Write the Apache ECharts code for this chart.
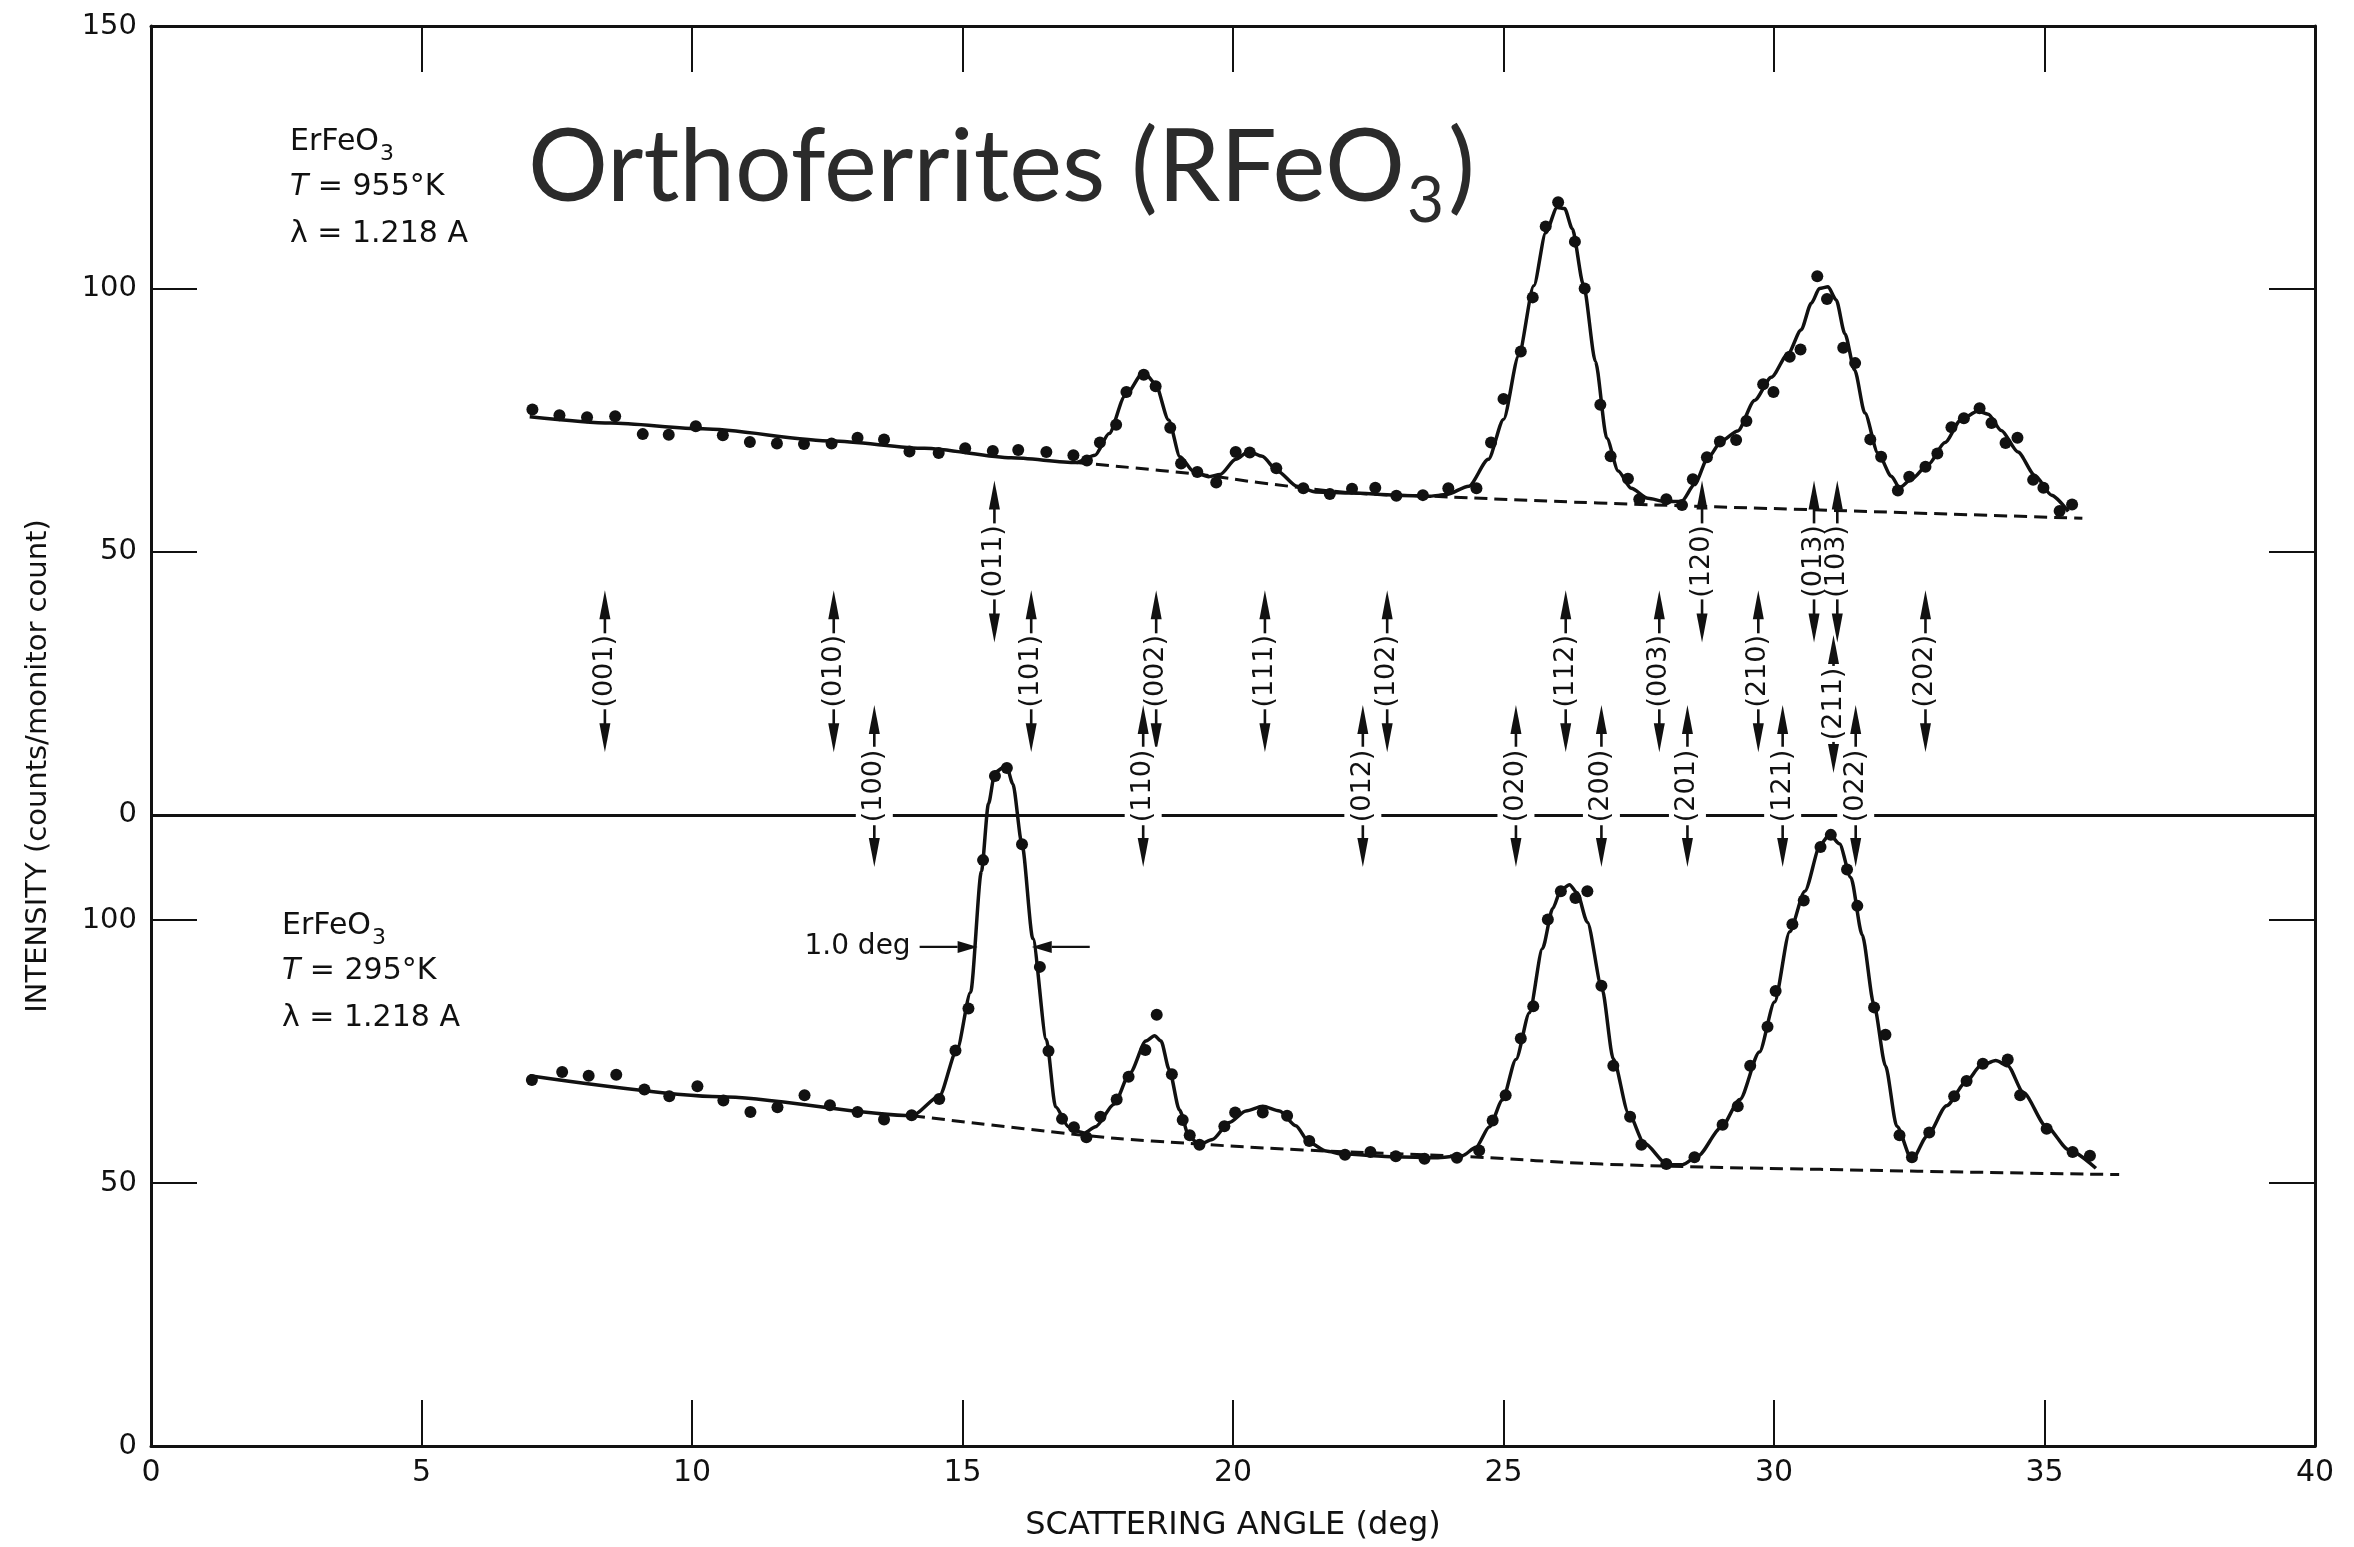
<!DOCTYPE html>
<html>
<head>
<meta charset="utf-8">
<title>ErFeO3 neutron diffraction patterns</title>
<script src="https://cdn.jsdelivr.net/npm/echarts@6/dist/echarts.min.js"></script>
<style>
  html, body { margin: 0; padding: 0; background: #fff; }
  #chart { width: 2354px; height: 1547px; }
</style>
</head>
<body>
<div id="chart"></div>
<script>
// ---------------------------------------------------------------
// Scattering angle (deg) vs intensity (counts / monitor count)
// Upper pattern: T = 955 K, lower pattern: T = 295 K.
// The upper pattern is stacked 120 counts above the lower one.
// ---------------------------------------------------------------

// 955 K: measured points [angle, counts]
const upperDots = [
  [7.05,77.1],[7.55,76.0],[8.06,75.6],[8.58,75.8],[9.09,72.4],[9.57,72.3],[10.07,73.9],[10.57,72.2],
  [11.07,70.9],[11.57,70.6],[12.07,70.5],[12.58,70.6],[13.06,71.7],[13.55,71.4],[14.02,69.1],[14.56,68.8],
  [15.05,69.7],[15.56,69.2],[16.03,69.4],[16.55,69.0],[17.05,68.4],[17.30,67.4],[17.54,70.8],[17.84,74.2],
  [18.03,80.4],[18.35,83.7],[18.57,81.5],[18.84,73.6],[19.04,66.8],[19.34,65.2],[19.69,63.2],[20.05,69.0],
  [20.31,68.9],[20.80,65.9],[21.30,62.1],[21.79,61.0],[22.20,62.0],[22.63,62.2],[23.02,60.7],[23.51,60.8],
  [23.98,62.1],[24.50,62.1],[24.77,70.8],[25.00,79.1],[25.32,88.1],[25.54,98.4],[25.78,111.9],[26.01,116.5],
  [26.32,109.0],[26.50,100.1],[26.79,78.0],[26.98,68.2],[27.30,63.9],[27.51,60.0],[28.01,60.0],[28.30,58.9],
  [28.50,63.8],[28.76,68.0],[29.00,71.0],[29.30,71.3],[29.49,74.9],[29.80,81.9],[29.99,80.4],[30.29,87.1],
  [30.49,88.5],[30.80,102.4],[30.98,98.1],[31.28,88.8],[31.50,85.9],[31.78,71.4],[31.98,68.1],[32.29,61.7],
  [32.50,64.3],[32.80,66.2],[33.02,68.7],[33.28,73.7],[33.51,75.4],[33.80,77.3],[34.02,74.5],[34.28,70.7],
  [34.50,71.7],[34.79,63.7],[34.98,62.2],[35.28,57.8],[35.51,59.0]
];

// 955 K: fitted curve
const upperFit = [
  [7.0,75.7],[8.5,74.5],[10.2,73.4],[12.6,71.1],[14.3,69.7],[15.9,67.9],[17.1,67.0],[17.45,68.4],
  [17.71,72.5],[18.0,79.6],[18.35,84.2],[18.56,82.1],[18.81,75.1],[19.02,68.1],[19.27,65.3],[19.55,64.3],
  [19.76,64.7],[20.05,67.6],[20.29,69.1],[20.54,68.2],[20.82,65.4],[21.18,62.5],[21.53,61.4],[22.2,61.2],
  [23.0,60.8],[23.65,60.6],[23.94,60.9],[24.36,62.5],[24.72,67.6],[25.0,75.2],[25.28,87.3],[25.56,100.6],
  [25.78,110.7],[25.99,115.5],[26.13,115.3],[26.27,111.5],[26.48,100.7],[26.7,86.2],[26.91,71.6],[27.12,65.4],
  [27.36,62.1],[27.67,60.2],[27.98,59.6],[28.29,59.6],[28.53,62.8],[28.78,67.9],[29.03,71.1],[29.33,73.0],
  [29.64,78.8],[29.95,83.2],[30.26,87.7],[30.5,92.2],[30.69,97.3],[30.84,100.1],[31.0,100.4],[31.15,97.9],
  [31.31,91.5],[31.49,84.6],[31.68,76.4],[31.92,68.8],[32.17,64.4],[32.32,62.2],[32.54,63.8],[32.85,66.6],
  [33.16,70.8],[33.46,75.2],[33.77,76.8],[33.96,76.2],[34.2,73.1],[34.51,69.0],[34.82,64.6],[35.13,60.8],
  [35.44,57.7]
];

// 955 K: background under the peaks
const upperBackground = [
  [17.1,67.0],[19.4,64.7],[20.47,63.2],[22.24,61.2],[23.65,60.6],[26.75,59.3],[31.07,57.9],[35.7,56.4]
];

// 295 K: measured points
const lowerDots = [
  [7.04,69.6],[7.60,71.1],[8.09,70.4],[8.60,70.6],[9.12,67.8],[9.58,66.5],[10.10,68.4],[10.58,65.7],
  [11.08,63.5],[11.58,64.4],[12.08,66.7],[12.55,64.8],[13.06,63.5],[13.55,62.1],[14.06,62.9],[14.57,66.0],
  [14.87,75.2],[15.11,83.2],[15.38,111.4],[15.60,127.4],[15.82,128.9],[16.10,114.4],[16.43,91.1],[16.59,75.1],
  [16.84,62.2],[17.06,60.6],[17.29,58.7],[17.55,62.6],[17.85,65.9],[18.07,70.2],[18.38,75.3],[18.59,82.0],
  [18.87,70.7],[19.07,62.0],[19.20,59.1],[19.38,57.3],[19.84,60.8],[20.04,63.4],[20.55,63.4],[21.00,62.8],
  [21.41,58.0],[22.07,55.4],[22.54,55.9],[23.01,55.1],[23.54,54.6],[24.14,54.8],[24.55,56.2],[24.80,61.9],
  [25.04,66.7],[25.32,77.5],[25.55,83.6],[25.82,100.1],[26.06,105.5],[26.33,104.2],[26.55,105.5],[26.81,87.5],
  [27.03,72.3],[27.34,62.6],[27.55,57.3],[28.01,53.6],[28.53,54.9],[29.05,61.1],[29.33,64.6],[29.56,72.3],
  [29.88,79.7],[30.03,86.5],[30.34,99.2],[30.55,103.7],[30.86,113.9],[31.05,116.2],[31.35,109.6],[31.54,102.7],
  [31.85,83.4],[32.06,78.2],[32.32,59.1],[32.55,54.9],[32.87,59.6],[33.33,66.5],[33.56,69.4],[33.86,72.7],
  [34.32,73.5],[34.55,66.7],[35.04,60.3],[35.52,55.9],[35.84,55.2]
];

// 295 K: fitted curve
const lowerFit = [
  [7.0,70.4],[10.53,66.4],[14.07,62.8],[14.57,66.5],[14.90,75.4],[15.15,86.3],[15.35,109.3],[15.48,122.1],
  [15.6,128.1],[15.81,129.4],[15.93,125.9],[16.10,114.4],[16.3,96.5],[16.55,77.3],[16.72,64.5],[16.96,60.7],
  [17.13,59.8],[17.25,59.5],[17.46,60.7],[17.8,65.0],[18.1,71.0],[18.39,77.0],[18.55,78.0],[18.67,77.0],
  [18.82,71.6],[19.01,63.9],[19.19,58.8],[19.38,57.3],[19.62,58.3],[19.93,61.5],[20.24,63.7],[20.55,64.6],
  [20.86,63.7],[21.16,60.9],[21.41,57.7],[21.72,56.1],[22.02,55.5],[23.0,55.0],[23.75,54.8],[24.24,55.2],
  [24.49,56.8],[24.74,60.7],[24.98,65.8],[25.23,73.5],[25.48,82.4],[25.72,94.6],[25.91,102.2],[26.06,105.7],
  [26.22,106.7],[26.36,105.2],[26.55,99.6],[26.82,87.0],[27.03,73.6],[27.31,63.3],[27.6,57.6],[28.03,53.5],
  [28.31,53.5],[28.59,55.1],[29.02,60.5],[29.37,65.9],[29.73,74.9],[30.01,84.4],[30.29,97.8],[30.57,105.5],
  [30.86,114.4],[31.03,116.3],[31.21,114.5],[31.42,108.1],[31.63,97.2],[31.85,83.8],[32.06,72.3],[32.27,60.8],
  [32.55,54.4],[32.83,58.9],[33.19,64.7],[33.54,69.1],[33.82,72.3],[34.1,73.3],[34.32,72.3],[34.61,67.2],
  [35.03,60.8],[35.45,56.3],[35.95,52.8]
];

// 295 K: background under the peaks
const lowerBackground = [
  [14.07,62.8],[17.13,59.2],[18.5,58.0],[21.29,56.3],[24.37,55.0],[26.83,53.6],[30.86,52.6],[36.38,51.6]
];

// Reflection markers (Miller indices and their scattering angles)
const markHklA = ['(001)','(010)','(101)','(002)','(111)','(102)','(112)','(003)','(210)','(202)'];
const markAngA = [8.39, 12.62, 16.27, 18.58, 20.59, 22.85, 26.15, 27.88, 29.71, 32.80];
const markHklB = ['(100)','(110)','(012)','(020)','(200)','(201)','(121)','(022)'];
const markAngB = [13.37, 18.34, 22.40, 25.23, 26.81, 28.40, 30.16, 31.51];
const markHklC = ['(011)','(120)','(013)','(103)'];
const markAngC = [15.59, 28.67, 30.74, 31.17];
const markHklD = ['(211)'];
const markAngD = [31.10];

// Peak width marker on the 295 K (011) peak
const fwhmCenter = 15.78;
const fwhmWidth = 1.0;
const fwhmLevel = 94.9;

// Axis tick labels
const xTicks = [0, 5, 10, 15, 20, 25, 30, 35, 40];
const lowerTicks = [0, 50, 100];
const upperTicks = [0, 50, 100, 150];
const UPPER_OFFSET = 120;

// ---------------------------------------------------------------
const INK = '#111';
const FONT = '"DejaVu Sans", "Liberation Sans", sans-serif';
const shift = (arr, dy) => arr.map(p => [p[0], p[1] + dy]);

const labelValues = lowerTicks.concat(upperTicks.map(v => v + UPPER_OFFSET));
const tickValues = labelValues.filter(v => v !== 0 && v !== UPPER_OFFSET && v !== 270);

// Vertical double arrow with a rotated Miller-index label in the middle
function markerRenderer(names, opt) {
  return function (params, api) {
    const p = api.coord([api.value(0), api.value(1)]);
    const cx = p[0], cy = p[1];
    const T = 35, G = 3, S = opt.shaft, H = 29, W = 5.5;
    const children = [];
    [-1, 1].forEach(function (d) {
      const a = cy + d * (T + G);
      const b = cy + d * (T + G + S);
      const tip = cy + d * (T + G + S + H);
      children.push({ type: 'line', shape: { x1: cx, y1: a, x2: cx, y2: b + d * 6 },
        style: { stroke: INK, lineWidth: 2.6 } });
      children.push({ type: 'polygon', shape: { points: [[cx, tip], [cx - W, b], [cx + W, b]] },
        style: { fill: INK } });
    });
    children.push({
      type: 'text', x: cx, y: cy, rotation: Math.PI / 2,
      style: {
        text: names[params.dataIndex], font: '27px ' + FONT, fill: INK,
        align: 'center', verticalAlign: 'middle',
        backgroundColor: opt.mask ? '#fff' : 'transparent',
        padding: opt.mask ? [5, 3] : 0
      }
    });
    return { type: 'group', children: children };
  };
}

function markerSeries(names, angles, rowY, opt) {
  return {
    type: 'custom', coordinateSystem: 'cartesian2d', silent: true, z: 10, clip: false,
    data: angles.map(a => [a, rowY]),
    renderItem: markerRenderer(names, opt)
  };
}

// Width arrows pointing at the peak flanks, with the "1.0 deg" text
function fwhmRenderer(params, api) {
  const left = api.coord([api.value(0) - api.value(1) / 2, api.value(2)]);
  const right = api.coord([api.value(0) + api.value(1) / 2, api.value(2)]);
  const y = left[1], L = 58, H = 20, W = 6;
  return {
    type: 'group',
    children: [
      { type: 'line', shape: { x1: left[0] - L, y1: y, x2: left[0] - H, y2: y }, style: { stroke: INK, lineWidth: 2.4 } },
      { type: 'polygon', shape: { points: [[left[0], y], [left[0] - H, y - W], [left[0] - H, y + W]] }, style: { fill: INK } },
      { type: 'line', shape: { x1: right[0] + H, y1: y, x2: right[0] + L, y2: y }, style: { stroke: INK, lineWidth: 2.4 } },
      { type: 'polygon', shape: { points: [[right[0], y], [right[0] + H, y - W], [right[0] + H, y + W]] }, style: { fill: INK } },
      { type: 'text', x: left[0] - L - 9, y: y,
        style: { text: fwhmWidth.toFixed(1) + ' deg', font: '28px ' + FONT, fill: INK, align: 'right', verticalAlign: 'middle' } }
    ]
  };
}

// Text helpers
const measureCtx = document.createElement('canvas').getContext('2d');
function textWidth(s, font) { measureCtx.font = font; return measureCtx.measureText(s).width; }

function sampleBlock(x, y, temperature) {
  const f = '30px ' + FONT;
  const w = textWidth('ErFeO', f);
  return [
    { type: 'text', x: x, y: y, style: { text: 'ErFeO', font: f, fill: INK, align: 'left', verticalAlign: 'middle' } },
    { type: 'text', x: x + w + 1, y: y + 12, style: { text: '3', font: '22px ' + FONT, fill: INK, align: 'left', verticalAlign: 'middle' } },
    { type: 'text', x: x, y: y + 45, style: {
        text: '{i|T} = ' + temperature + '°K', font: f, fill: INK, align: 'left', verticalAlign: 'middle',
        rich: { i: { fontStyle: 'italic', fontSize: 30, fontFamily: 'DejaVu Sans', fill: INK } } } },
    { type: 'text', x: x, y: y + 92, style: { text: 'λ = 1.218 A', font: f, fill: INK, align: 'left', verticalAlign: 'middle' } }
  ];
}

function titleBlock(x, y) {
  const big = '100px Lato, "Noto Sans", sans-serif';
  const small = '64px Lato, "Noto Sans", sans-serif';
  const main = 'Orthoferrites (RFeO';
  const w1 = textWidth(main, big);
  const w2 = textWidth('3', small);
  const col = '#2b2b2b';
  return [
    { type: 'text', x: x, y: y, style: { text: main, font: big, fill: col, align: 'left', verticalAlign: 'middle' } },
    { type: 'text', x: x + w1 + 2, y: y + 32, style: { text: '3', font: small, fill: col, align: 'left', verticalAlign: 'middle' } },
    { type: 'text', x: x + w1 + w2 + 6, y: y, style: { text: ')', font: big, fill: col, align: 'left', verticalAlign: 'middle' } }
  ];
}

const yTitle = {
  type: 'text', x: 38, y: 766, rotation: Math.PI / 2,
  style: { text: 'INTENSITY (counts/monitor count)', font: '29px ' + FONT, fill: INK, align: 'center', verticalAlign: 'middle' }
};

const frameLine = { show: true, onZero: false, lineStyle: { color: INK, width: 3 } };
const innerTick = { show: true, inside: true, length: 46, lineStyle: { color: INK, width: 2 } };

const chart = echarts.init(document.getElementById('chart'), null, { renderer: 'canvas' });

const option = {
  backgroundColor: '#fff',
  animation: false,
  grid: { left: 151, right: 39, top: 26, bottom: 99, containLabel: false },
  xAxis: [
    {
      type: 'value', min: 0, max: 40, interval: 5, position: 'bottom',
      axisLine: frameLine, axisTick: innerTick, splitLine: { show: false },
      axisLabel: { margin: 12, fontSize: 30, fontFamily: 'DejaVu Sans', color: INK,
        formatter: v => (xTicks.indexOf(v) >= 0 ? String(v) : '') },
      name: 'SCATTERING ANGLE (deg)', nameLocation: 'middle', nameGap: 64,
      nameTextStyle: { fontSize: 32, fontFamily: 'DejaVu Sans', color: INK }
    },
    {
      type: 'value', min: 0, max: 40, interval: 5, position: 'top',
      axisLine: frameLine, axisTick: innerTick, axisLabel: { show: false }, splitLine: { show: false }
    }
  ],
  yAxis: [
    {
      type: 'value', min: 0, max: 270, position: 'left',
      axisLine: frameLine,
      axisTick: Object.assign({}, innerTick, { customValues: tickValues }),
      axisLabel: {
        customValues: labelValues, margin: 14, fontSize: 29, fontFamily: 'DejaVu Sans', color: INK,
        formatter: v => String(v >= UPPER_OFFSET ? v - UPPER_OFFSET : v)
      },
      splitLine: { show: false }
    },
    {
      type: 'value', min: 0, max: 270, position: 'right',
      axisLine: frameLine,
      axisTick: Object.assign({}, innerTick, { customValues: tickValues }),
      axisLabel: { show: false }, splitLine: { show: false }
    }
  ],
  graphic: { elements: [].concat(titleBlock(528, 169), sampleBlock(290, 142, 955), sampleBlock(282, 926, 295), [yTitle]) },
  series: [
    {
      name: '955 K fit', type: 'line', data: shift(upperFit, UPPER_OFFSET), smooth: 0.25, smoothMonotone: 'x',
      symbol: 'none', lineStyle: { color: INK, width: 3.5 }, z: 3, silent: true
    },
    {
      name: '955 K background', type: 'line', data: shift(upperBackground, UPPER_OFFSET), smooth: 0.4,
      symbol: 'none', lineStyle: { color: INK, width: 3, type: [13, 7] }, z: 2, silent: true
    },
    {
      name: '955 K', type: 'scatter', data: shift(upperDots, UPPER_OFFSET), symbolSize: 12,
      itemStyle: { color: INK, opacity: 1 }, z: 4, silent: true,
      markLine: {
        silent: true, symbol: ['none', 'none'], label: { show: false }, animation: false,
        lineStyle: { color: INK, width: 3, type: 'solid' },
        data: [{ yAxis: UPPER_OFFSET }]
      }
    },
    {
      name: '295 K fit', type: 'line', data: lowerFit, smooth: 0.25, smoothMonotone: 'x',
      symbol: 'none', lineStyle: { color: INK, width: 3.5 }, z: 3, silent: true
    },
    {
      name: '295 K background', type: 'line', data: lowerBackground, smooth: 0.4,
      symbol: 'none', lineStyle: { color: INK, width: 3, type: [13, 7] }, z: 2, silent: true
    },
    {
      name: '295 K', type: 'scatter', data: lowerDots, symbolSize: 12,
      itemStyle: { color: INK, opacity: 1 }, z: 4, silent: true
    },
    markerSeries(markHklA, markAngA, 147.3, { shaft: 14, mask: false }),
    markerSeries(markHklB, markAngB, 125.5, { shaft: 14, mask: true }),
    markerSeries(markHklC, markAngC, 168.2, { shaft: 14, mask: false }),
    markerSeries(markHklD, markAngD, 141.1, { shaft: 2, mask: false }),
    {
      type: 'custom', coordinateSystem: 'cartesian2d', silent: true, z: 10, clip: false,
      data: [[fwhmCenter, fwhmWidth, fwhmLevel]],
      renderItem: fwhmRenderer
    }
  ]
};

chart.setOption(option);
</script>
</body>
</html>
